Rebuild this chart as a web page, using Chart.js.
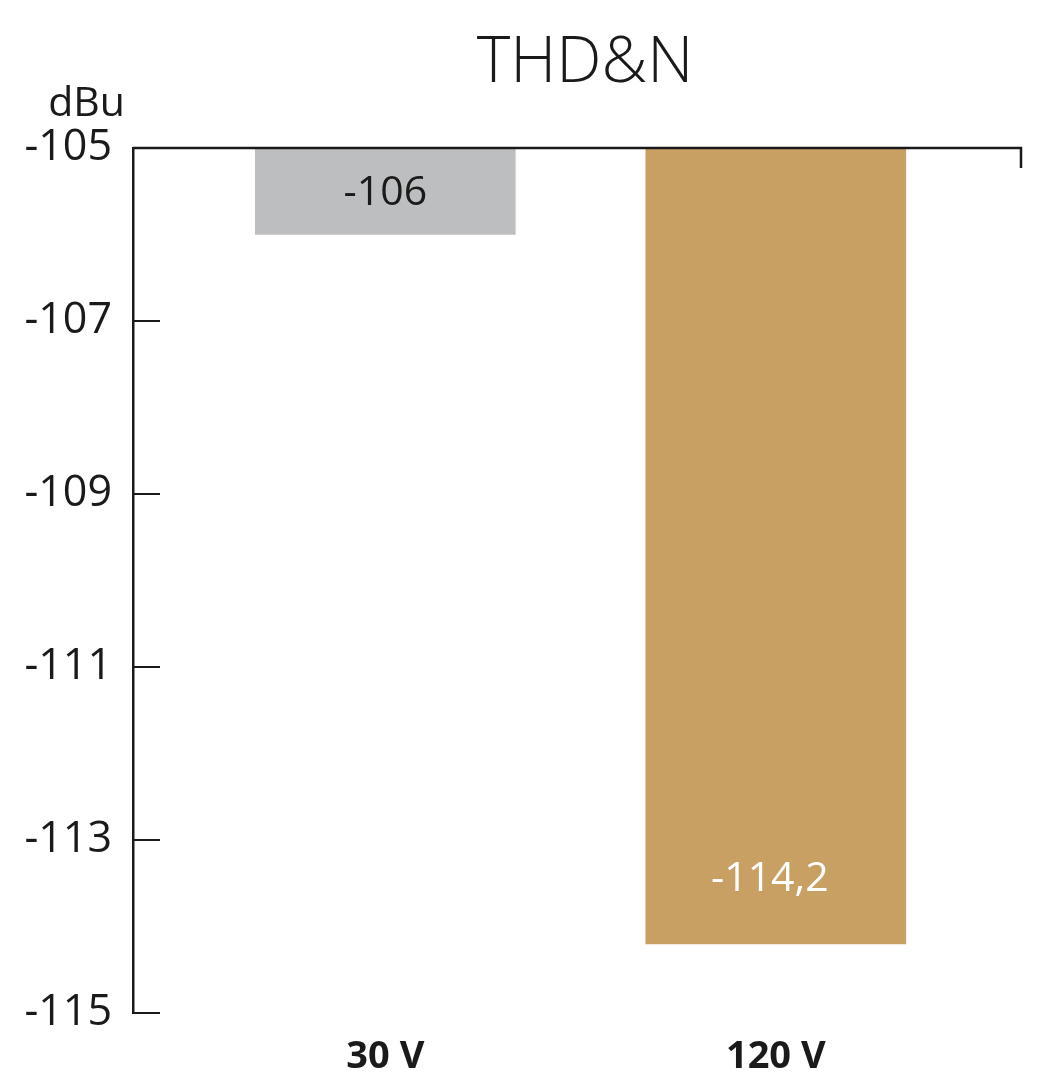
<!DOCTYPE html>
<html lang="de">
<head>
    <meta charset="UTF-8">
    <title>THD&amp;N</title>
    <style>
        body {
            margin: 0;
            background: #ffffff;
        }
        #wrap {
            width: 1048px;
            height: 1080px;
        }
    </style>
</head>
<body>
    <div id="wrap">
        <canvas id="grafico" width="1048" height="1080"></canvas>
    </div>

    <script src="https://cdn.jsdelivr.net/npm/chart.js"></script>
    <script>
        // dados
        const categorias = ['30 V', '120 V'];
        const valores = [-106, -114.2];
        const rotulos = ['-106', '-114,2'];
        const cores = ['#bdbebf', '#c9a063'];
        const coresRotulo = ['#1a1a1a', '#ffffff'];
        const yMin = -115;
        const yMax = -105;
        const yPasso = 2;

        const fonte = "'Open Sans', 'Noto Sans', sans-serif";
        const preto = '#1a1a1a';

        // titulo, eixo, marcas internas e rotulos das barras
        const extras = {
            id: 'extras',
            afterDatasetsDraw(chart) {
                const ctx = chart.ctx;
                const a = chart.chartArea;
                const y = chart.scales.y;
                ctx.save();
                ctx.strokeStyle = preto;
                ctx.lineWidth = 2.5;
                ctx.beginPath();
                ctx.moveTo(a.left, a.top);
                ctx.lineTo(a.right, a.top);
                ctx.lineTo(a.right, a.top + 20);
                ctx.stroke();
                y.ticks.forEach(t => {
                    const py = y.getPixelForValue(t.value);
                    if (py > a.top + 2) {
                        ctx.beginPath();
                        ctx.lineWidth = 2;
                        ctx.moveTo(a.left, py);
                        ctx.lineTo(a.left + 27, py);
                        ctx.stroke();
                    }
                });

                const meta = chart.getDatasetMeta(0);
                ctx.textAlign = 'center';
                ctx.textBaseline = 'middle';
                ctx.font = '41px ' + fonte;
                meta.data.forEach((bar, i) => {
                    ctx.fillStyle = coresRotulo[i];
                    const px = i === 0 ? bar.x : bar.x - 6;
                    const py = i === 0 ? (bar.y + bar.base) / 2 + 2 : bar.y - 64;
                    ctx.fillText(rotulos[i], px, py);
                });

                ctx.fillStyle = preto;
                ctx.font = '300 64px ' + fonte;
                ctx.fillText('THD&N', 585, 64);

                ctx.font = '41px ' + fonte;
                ctx.textAlign = 'right';
                ctx.fillText('dBu', 125, 104);
                ctx.restore();
            }
        };

        new Chart(document.getElementById('grafico'), {
            type: 'bar',
            data: {
                datasets: [{
                    data: categorias.map((c, i) => ({ x: i + 1, y: valores[i] })),
                    base: yMax,
                    backgroundColor: cores,
                    barThickness: 260
                }]
            },
            options: {
                responsive: false,
                animation: false,
                layout: { padding: { top: 148, right: 27, bottom: 0, left: 0 } },
                plugins: {
                    legend: { display: false },
                    tooltip: { enabled: false },
                    title: { display: false }
                },
                scales: {
                    x: {
                        type: 'linear',
                        offset: false,
                        min: 0.3538,
                        max: 2.628,
                        grid: { display: false },
                        border: { display: false },
                        afterBuildTicks: s => { s.ticks = categorias.map((c, i) => ({ value: i + 1 })); },
                        afterFit: s => { s.height = 67; },
                        ticks: {
                            callback: v => categorias[v - 1],
                            color: preto,
                            font: { family: fonte, size: 38, weight: 'bold' },
                            padding: 13,
                            maxRotation: 0
                        }
                    },
                    y: {
                        min: yMin,
                        max: yMax,
                        afterFit: s => { s.width = 133; },
                        grid: { display: false, drawTicks: false },
                        border: { display: true, color: preto, width: 2.5 },
                        ticks: {
                            stepSize: yPasso,
                            color: preto,
                            font: { family: fonte, size: 43 },
                            padding: 21
                        }
                    }
                }
            },
            plugins: [extras]
        });
    </script>
</body>
</html>
